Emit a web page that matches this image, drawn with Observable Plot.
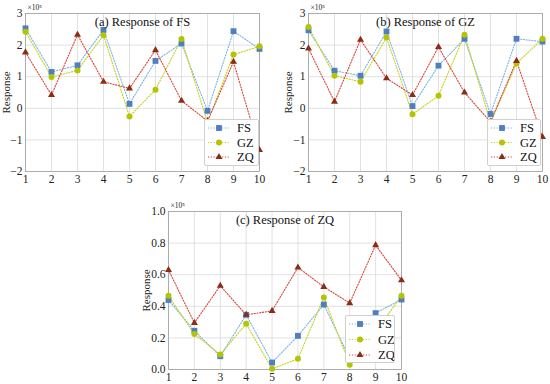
<!DOCTYPE html>
<html>
<head>
<meta charset="utf-8">
<script src="https://cdn.jsdelivr.net/npm/d3@7"></script>
<script src="https://cdn.jsdelivr.net/npm/@observablehq/plot@0.6"></script>
<style>
  html, body { margin: 0; padding: 0; background: #fff; }
  #root { position: relative; width: 550px; height: 384px; overflow: hidden; background: #fff; font-family: "Liberation Serif", "Times New Roman", "DejaVu Serif", serif; }
  #root svg, #root svg text { font-family: "Liberation Serif", "Times New Roman", "DejaVu Serif", serif !important; }
  .panel { position: absolute; }
  .legend { position: absolute; background: #fff; border: 1px solid #d0d0d0; border-radius: 2px; box-sizing: border-box; }
</style>
</head>
<body>
<div id="root"></div>
<script>
const steps = [1, 2, 3, 4, 5, 6, 7, 8, 9, 10];
const seriesNames = ["FS", "GZ", "ZQ"];

// (a) Response of FS  (×10^5)
const aFS = [2.53, 1.15, 1.36, 2.48, 0.14, 1.50, 2.05, -0.08, 2.44, 1.88];
const aGZ = [2.42, 0.99, 1.20, 2.31, -0.26, 0.59, 2.19, -0.45, 1.70, 1.96];
const aZQ = [1.77, 0.42, 2.33, 0.84, 0.63, 1.84, 0.24, -0.40, 1.47, -1.32];

// (b) Response of GZ
const bFS = [2.47, 1.19, 1.03, 2.43, 0.07, 1.35, 2.20, -0.18, 2.20, 2.11];
const bGZ = [2.57, 1.03, 0.84, 2.24, -0.19, 0.40, 2.33, -0.45, 1.42, 2.20];
const bZQ = [1.89, 0.21, 2.17, 0.95, 0.42, 1.94, 0.50, -0.43, 1.50, -0.91];

// (c) Response of ZQ
const cFS = [0.44, 0.245, 0.084, 0.346, 0.044, 0.213, 0.411, 0.07, 0.357, 0.443];
const cGZ = [0.466, 0.224, 0.095, 0.289, 0.004, 0.068, 0.456, 0.03, 0.24, 0.466];
const cZQ = [0.63, 0.295, 0.53, 0.346, 0.371, 0.646, 0.523, 0.42, 0.787, 0.565];

const abTicks = [-2, -1, 0, 1, 2, 3];
const cTicks = [0.0, 0.2, 0.4, 0.6, 0.8, 1.0];
const titles = ["(a) Response of FS", "(b) Response of GZ", "(c) Response of ZQ"];
const exponentLabel = "×10⁵";

const lineColors = {FS: "#7db3e3", GZ: "#c6d21a", ZQ: "#d9463a"};
const dotColors = {FS: "#4f7fbf", GZ: "#b5c400", ZQ: "#8c2c14"};
const symbols = {FS: "square", GZ: "circle", ZQ: "triangle"};
const radii = {FS: 3.3, GZ: 3.0, ZQ: 2.6};

function table(fs, gz, zq) {
  const rows = [];
  [fs, gz, zq].forEach((vals, i) => {
    vals.forEach((v, j) => rows.push({series: seriesNames[i], step: steps[j], value: v}));
  });
  return rows;
}

const FONT = '"Liberation Serif", "Times New Roman", "DejaVu Serif", serif';

function panel(cfg) {
  const data = table(...cfg.values);
  const marks = [
    Plot.gridX(steps, {stroke: "#d9d9d9", strokeOpacity: 1, strokeWidth: 0.8}),
    Plot.gridY(cfg.ticks, {stroke: "#d9d9d9", strokeOpacity: 1, strokeWidth: 0.8}),
    Plot.frame({stroke: "#a0a0a0", strokeWidth: 0.8}),
    Plot.axisX(steps, {tickSize: 0, tickPadding: 3, fontSize: 11.5, label: null}),
    Plot.axisY(cfg.ticks, {tickSize: 0, tickPadding: 3, fontSize: 11.5, tickFormat: cfg.fmt, label: null}),
    Plot.axisY([], {label: "Response", labelAnchor: "center", labelArrow: "none", labelOffset: cfg.labelOffset, fontSize: 11, tickSize: 0}),
  ];
  seriesNames.forEach(s => {
    const d = data.filter(r => r.series === s);
    marks.push(Plot.line(d, {x: "step", y: "value", stroke: lineColors[s], strokeWidth: 1.1, strokeDasharray: "1.2,1.6"}));
  });
  seriesNames.forEach(s => {
    const d = data.filter(r => r.series === s);
    marks.push(Plot.dot(d, {x: "step", y: "value", symbol: symbols[s], fill: dotColors[s], stroke: "none", r: radii[s]}));
  });
  marks.push(Plot.text([cfg.title], {frameAnchor: "top", dy: 4, fontSize: 12.5, fill: "#111", lineAnchor: "top"}));
  marks.push(Plot.text([exponentLabel], {frameAnchor: "top-left", dx: 2, dy: -9, fontSize: 7.5, fill: "#222", textAnchor: "start"}));
  return Plot.plot({
    width: cfg.width, height: cfg.height,
    marginLeft: cfg.m[0], marginRight: cfg.m[1], marginTop: cfg.m[2], marginBottom: cfg.m[3],
    style: {fontFamily: FONT, background: "transparent", color: "#222", overflow: "visible"},
    x: {domain: [1, 10]},
    y: {domain: cfg.domain},
    marks
  });
}

function legend(pos) {
  const div = document.createElement("div");
  div.className = "legend";
  Object.assign(div.style, {left: pos.left + "px", top: pos.top + "px", width: pos.w + "px", height: pos.h + "px"});
  const svg = d3.create("svg").attr("width", pos.w - 2).attr("height", pos.h - 2).style("display", "block");
  const sym = {square: d3.symbolSquare, circle: d3.symbolCircle, triangle: d3.symbolTriangle};
  seriesNames.forEach((s, i) => {
    const y = pos.y0 + i * pos.dy;
    svg.append("line").attr("x1", 3).attr("x2", 25).attr("y1", y).attr("y2", y)
      .attr("stroke", lineColors[s]).attr("stroke-width", 1.1).attr("stroke-dasharray", "1.2,1.6");
    const r = radii[s];
    svg.append("path").attr("d", d3.symbol(sym[symbols[s]], r * r * Math.PI)())
      .attr("transform", `translate(14,${y})`).attr("fill", dotColors[s]);
    svg.append("text").attr("x", 32).attr("y", y).attr("dy", "0.35em")
      .attr("font-size", 12.5).attr("font-family", FONT).attr("fill", "#111").text(s);
  });
  div.appendChild(svg.node());
  return div;
}

const root = document.getElementById("root");
const fmtAB = d => d3.format("d")(d);
const fmtC = d => d.toFixed(1);

const cfgs = [
  {left: 0, top: 0, width: 275, height: 192, m: [25, 16, 13, 21], domain: [-2, 3], ticks: abTicks, fmt: fmtAB, title: titles[0], values: [aFS, aGZ, aZQ], labelOffset: 23},
  {left: 275, top: 0, width: 275, height: 192, m: [33, 8, 13, 21], domain: [-2, 3], ticks: abTicks, fmt: fmtAB, title: titles[1], values: [bFS, bGZ, bZQ], labelOffset: 24},
  {left: 130, top: 195, width: 290, height: 189, m: [38, 19, 16, 15], domain: [0, 1], ticks: cTicks, fmt: fmtC, title: titles[2], values: [cFS, cGZ, cZQ], labelOffset: 26},
];
cfgs.forEach(cfg => {
  const wrap = document.createElement("div");
  wrap.className = "panel";
  wrap.style.left = cfg.left + "px";
  wrap.style.top = cfg.top + "px";
  wrap.appendChild(panel(cfg));
  root.appendChild(wrap);
});

root.appendChild(legend({left: 204, top: 119, w: 55, h: 47, y0: 8, dy: 14.5}));
root.appendChild(legend({left: 487, top: 119, w: 54, h: 47, y0: 8, dy: 14.5}));
root.appendChild(legend({left: 345, top: 315, w: 50, h: 48, y0: 8, dy: 15.5}));
</script>
</body>
</html>
